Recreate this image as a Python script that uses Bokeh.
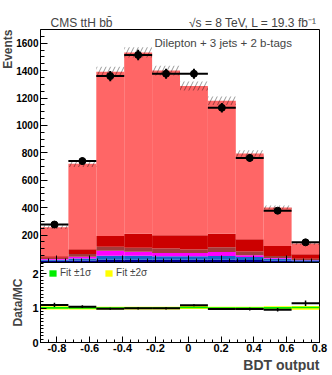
import numpy as np
from bokeh.plotting import figure
from bokeh.layouts import column
from bokeh.models import Label, Range1d, FixedTicker, Legend, LegendItem, Title, CustomJSTickFormatter
from bokeh.embed import file_html
from bokeh.resources import INLINE

# ---------------- data ----------------
bin_edges = [-0.9, -0.73, -0.56, -0.39, -0.22, -0.05, 0.12, 0.29, 0.46, 0.63, 0.8]

bkg_navy    = [12, 15, 20, 20, 20, 20, 20, 18, 12, 8]
bkg_blue    = [8, 15, 30, 30, 25, 25, 28, 22, 15, 8]
bkg_magenta = [6, 12, 35, 28, 25, 25, 28, 12, 6, 3]
bkg_brown   = [8, 20, 30, 30, 32, 25, 35, 29, 15, 8]
bkg_darkred = [12, 35, 78, 102, 96, 103, 99, 88, 73, 34]
bkg_ltred   = [212, 623, 1199, 1323, 1202, 1090, 970, 626, 281, 77]
mc_unc      = [14, 24, 36, 38, 35, 33, 31, 24, 14, 8]

data_counts = [277, 740, 1360, 1514, 1377, 1377, 1129, 763, 378, 147]
data_err    = [17, 27, 37, 39, 37, 37, 34, 28, 19, 12]

ratio_vals  = [1.09, 1.04, 0.98, 0.99, 0.99, 1.08, 0.97, 0.97, 0.95, 1.14]
ratio_err   = [0.06, 0.04, 0.03, 0.03, 0.03, 0.03, 0.03, 0.04, 0.05, 0.08]
green_lo    = [0.98, 0.98, 0.98, 0.98, 0.98, 0.99, 0.98, 0.98, 0.98, 0.99]
green_hi    = [1.03, 1.03, 1.02, 1.02, 1.02, 1.04, 1.02, 1.02, 1.03, 1.04]
yellow_lo   = [0.96, 0.96, 0.96, 0.96, 0.96, 0.97, 0.96, 0.96, 0.96, 0.95]
yellow_hi   = [1.05, 1.05, 1.04, 1.04, 1.04, 1.06, 1.04, 1.04, 1.05, 1.06]

x_ticks = [-0.8, -0.6, -0.4, -0.2, 0, 0.2, 0.4, 0.6, 0.8]
x_tick_labels = {-0.8: "-0.8", -0.6: "-0.6", -0.4: "-0.4", -0.2: "-0.2", 0: "0",
                 0.2: "0.2", 0.4: "0.4", 0.6: "0.6", 0.8: "0.8"}
y_ticks_top = [200, 400, 600, 800, 1000, 1200, 1400, 1600]
y_ticks_ratio = [0, 1, 2]

# ---------------- derived ----------------
left = np.array(bin_edges[:-1])
right = np.array(bin_edges[1:])
centers = (left + right) / 2
layers = [bkg_navy, bkg_blue, bkg_magenta, bkg_brown, bkg_darkred, bkg_ltred]
colors = ["#00008f", "#1466cc", "#ff00ff", "#a03c3c", "#cc0000", "#ff6666"]
cum = np.cumsum(np.array(layers, dtype=float), axis=0)
mc_total = cum[-1]

FONT = "Liberation Sans"
FW, LB, RB = 279, 36, 17
HDR_H = 29
x_rng = Range1d(-0.9, 0.8)

# ---------------- header (texts above the frame) ----------------
hdr = figure(frame_width=FW, frame_height=HDR_H, x_range=x_rng, y_range=Range1d(0, HDR_H),
             output_backend="svg", toolbar_location=None,
             x_axis_location=None, y_axis_location=None,
             min_border_left=LB, min_border_right=RB, min_border_top=0, min_border_bottom=0)
hdr.grid.visible = False
hdr.outline_line_color = None
hdr.add_layout(Label(x=-0.839, y=6.5, text="CMS ttH bb\u0304", text_font=FONT,
                     text_font_size="12px", text_align="left", text_baseline="alphabetic"))
hdr.add_layout(Label(x=0.782, y=6.5, text="\u221as = 8 TeV, L = 19.3 fb\u207b\u00b9", text_font=FONT,
                     text_font_size="12px", text_align="right", text_baseline="alphabetic"))

# ---------------- top panel ----------------
p1 = figure(frame_width=FW, frame_height=233, x_range=x_rng, y_range=Range1d(0, 1700),
            output_backend="svg", toolbar_location=None,
            min_border_left=LB, min_border_right=RB, min_border_top=0, min_border_bottom=0)
p1.grid.visible = False
p1.outline_line_color = "black"

bottom = np.zeros(len(left))
for c, top in zip(colors, cum):
    p1.quad(left=left, right=right, bottom=bottom, top=top, fill_color=c, line_color=None)
    bottom = top

p1.quad(left=left, right=right, bottom=mc_total - np.array(mc_unc), top=mc_total + np.array(mc_unc),
        fill_alpha=0, line_color=None, hatch_pattern="/", hatch_color="black",
        hatch_scale=9, hatch_weight=0.5, hatch_alpha=0.8)

dc = np.array(data_counts, dtype=float)
de = np.array(data_err, dtype=float)
p1.segment(x0=left, x1=right, y0=dc, y1=dc, line_color="black", line_width=2)
p1.segment(x0=centers, x1=centers, y0=dc - de, y1=dc + de, line_color="black", line_width=2)
p1.scatter(centers, dc, size=7, color="black")

p1.yaxis.ticker = FixedTicker(ticks=y_ticks_top, minor_ticks=list(range(50, 1700, 50)))
p1.xaxis.ticker = FixedTicker(ticks=x_ticks, minor_ticks=[round(-0.9 + 0.05 * i, 2) for i in range(35)])
for ax in [p1.xaxis[0], p1.yaxis[0]]:
    ax.major_tick_in = 7
    ax.major_tick_out = 0
    ax.minor_tick_in = 4
    ax.minor_tick_out = 0
    ax.axis_line_color = "black"
    ax.major_label_text_font = FONT
    ax.major_label_text_font_style = "bold"
    ax.major_label_text_color = "black"
p1.yaxis.major_label_text_font_size = "10px"
p1.yaxis.major_label_standoff = 2
p1.xaxis.formatter = CustomJSTickFormatter(code="return ''")
p1.xaxis.major_label_standoff = 0

p1.add_layout(Label(x=-0.205, y=1602, text="Dilepton + 3 jets + 2 b-tags", text_font=FONT,
                    text_font_size="11.5px", text_align="left", text_baseline="alphabetic"))
p1.add_layout(Title(text="Events", align="right", text_font=FONT, text_font_style="bold",
                    text_font_size="12px", standoff=-3), "left")

# ---------------- ratio panel ----------------
p2 = figure(frame_width=FW, frame_height=80, x_range=x_rng, y_range=Range1d(0, 2.32),
            output_backend="svg", toolbar_location=None,
            min_border_left=LB, min_border_right=RB, min_border_top=0, min_border_bottom=0)
p2.grid.visible = False
p2.outline_line_color = "black"

ry = p2.quad(left=left, right=right, bottom=yellow_lo, top=yellow_hi, fill_color="#ffff00", line_color=None)
rg = p2.quad(left=left, right=right, bottom=green_lo, top=green_hi, fill_color="#00ee00", line_color=None)

rv = np.array(ratio_vals)
re = np.array(ratio_err)
p2.segment(x0=left, x1=right, y0=rv, y1=rv, line_color="black", line_width=2)
p2.segment(x0=centers, x1=centers, y0=rv - re, y1=rv + re, line_color="black", line_width=1.5)

p2.yaxis.ticker = FixedTicker(ticks=y_ticks_ratio, minor_ticks=[round(0.1 * i, 1) for i in range(24)])
p2.xaxis.ticker = FixedTicker(ticks=x_ticks, minor_ticks=[round(-0.9 + 0.05 * i, 2) for i in range(35)])
p2.xaxis.major_label_overrides = x_tick_labels
for ax in [p2.xaxis[0], p2.yaxis[0]]:
    ax.major_tick_in = 6
    ax.major_tick_out = 0
    ax.minor_tick_in = 3
    ax.minor_tick_out = 0
    ax.axis_line_color = "black"
    ax.major_label_text_font = FONT
    ax.major_label_text_font_style = "bold"
    ax.major_label_text_color = "black"
p2.yaxis.major_label_text_font_size = "11px"
p2.yaxis.major_label_standoff = 2
p2.xaxis.major_label_text_font_size = "11px"
p2.xaxis.major_label_standoff = 1

legend = Legend(items=[LegendItem(label="Fit \u00b11\u03c3", renderers=[rg]),
                       LegendItem(label="Fit \u00b12\u03c3", renderers=[ry])],
                orientation="horizontal", location=(8, 64), margin=0, padding=0,
                glyph_width=9, glyph_height=8, label_standoff=3, spacing=13,
                label_text_font=FONT, label_text_font_size="10px",
                border_line_alpha=0, background_fill_alpha=0)
p2.add_layout(legend)

p2.add_layout(Title(text="Data/MC", align="center", text_font=FONT, text_font_style="bold",
                    text_font_size="12px", standoff=9), "left")
p2.add_layout(Title(text="BDT output", align="right", text_font=FONT, text_font_style="bold",
                    text_font_size="14px", standoff=0), "below")

layout = column(hdr, p1, p2)
open("out.html", "w").write(file_html(layout, INLINE))
